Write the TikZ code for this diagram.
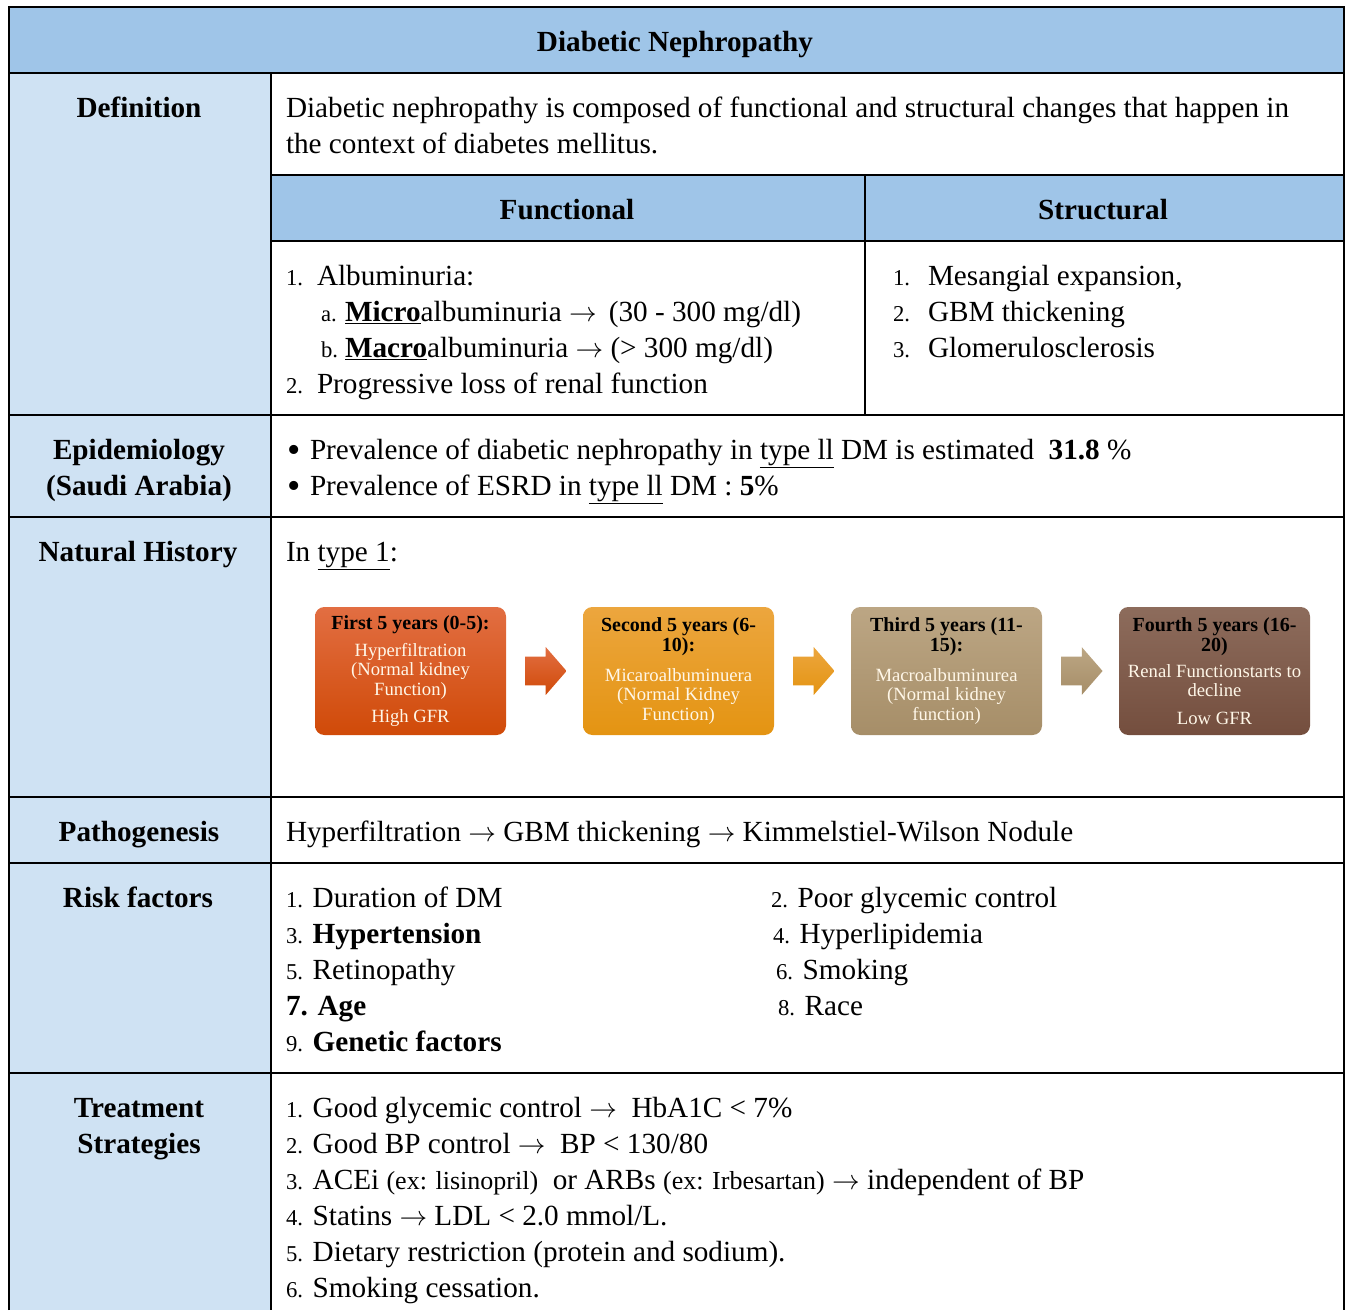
\documentclass[tikz,border=0pt]{standalone}
\usepackage{fontspec}
\setmainfont{Liberation Serif}
\usepackage{xcolor}
\usetikzlibrary{shapes.arrows,calc,positioning}

\definecolor{hdrblue}{RGB}{159,197,232}
\definecolor{lblblue}{RGB}{207,226,243}
\definecolor{cream}{RGB}{255,247,232}
\definecolor{sonetop}{RGB}{226,110,66}
\definecolor{sonebot}{RGB}{208,74,8}
\definecolor{stwotop}{RGB}{236,166,62}
\definecolor{stwobot}{RGB}{228,148,18}
\definecolor{sthreetop}{RGB}{188,166,132}
\definecolor{sthreebot}{RGB}{166,142,104}
\definecolor{sfourtop}{RGB}{141,108,92}
\definecolor{sfourbot}{RGB}{116,78,62}

\newcommand\bodyf{\fontsize{21.9}{27}\selectfont}
\newcommand\numf{\fontsize{17}{27}\selectfont}
\newcommand\exf{\fontsize{19.5}{27}\selectfont}
\newcommand\boxf{\fontsize{14}{14.6}\selectfont}
\newcommand\boxttl{\color{black}\fontsize{15}{14.6}\selectfont\bfseries}
\newcommand\lnum[2]{\makebox[#1][l]{\numf #2}}
\newcommand\ra{\ensuremath{\rightarrow}}
\newcommand\bul{\makebox[17.25pt][l]{\raisebox{-2.3pt}{\scalebox{1.3}{\textbullet}}}}

\begin{document}
\begin{tikzpicture}[x=0.75pt,y=0.75pt,yscale=-1,xscale=1,
  line width=1.5pt,
  every node/.style={inner sep=0pt,font=\bodyf},
  lbl/.style={anchor=base,font=\bodyf\bfseries},
  txt/.style={anchor=base west},
  stagebox/.style={rounded corners=7pt,minimum width=143.25pt,minimum height=96pt,outer sep=0pt,align=center,font=\boxf,text=cream},
  blockarr/.style={single arrow,single arrow head extend=7.1pt,single arrow tip angle=98,inner sep=10.1pt,minimum height=30.75pt,minimum width=34.5pt,xshift=-3.75pt},
  node distance=57.75pt]
\useasboundingbox (0,0) rectangle (1345,1310);

%Shape: header fills
\fill[hdrblue] (9,7) rectangle (1344,73);
\fill[lblblue] (9,73) rectangle (271,1310);
\fill[hdrblue] (271,175) rectangle (1344,241);
%Straight Lines: grid
\draw (9,1310) -- (9,7) -- (1344,7) -- (1344,1310);
\draw (9,73) -- (1344,73);
\draw (271,73) -- (271,1310);
\draw (271,175) -- (1344,175);
\draw (271,241) -- (1344,241);
\draw (865,175) -- (865,415);
\foreach \y in {415,517,797,863,1073}
  \draw (9,\y) -- (1344,\y);

% Text Node
\node[lbl] (ttl) at (675,51) {Diabetic Nephropathy};
% Text Node
\node[lbl] (defn) at (139,117) {Definition};
\node[txt] (deftxta) at (285,117) {Diabetic nephropathy is composed of functional and structural changes that happen in};
\node[txt] (deftxtb) at (285,153) {the context of diabetes mellitus.};
% Text Node
\node[lbl] (fnhd) at (567,219) {Functional};
\node[lbl] (sthd) at (1103,219) {Structural};
% Text Node
\node[txt] (fnone) at (285,285) {\lnum{23.25pt}{1.}Albuminuria:};
\node[txt] (fnonea) at (320,321) {\lnum{18pt}{a.}\underline{\textbf{Micro}}albuminuria \ra\ \,(30 - 300 mg/dl)};
\node[txt] (fnoneb) at (320,357) {\lnum{18pt}{b.}\underline{\textbf{Macro}}albuminuria \ra\ (> 300 mg/dl)};
\node[txt] (fntwo) at (285,393) {\lnum{23.25pt}{2.}Progressive loss of renal function};
% Text Node
\node[txt] (stone) at (892,285) {\lnum{26.25pt}{1.}Mesangial expansion,};
\node[txt] (sttwo) at (892,321) {\lnum{26.25pt}{2.}GBM thickening};
\node[txt] (stthree) at (892,357) {\lnum{26.25pt}{3.}Glomerulosclerosis};

% Text Node
\node[lbl] (epida) at (139,459) {Epidemiology};
\node[lbl] (epidb) at (139,495) {(Saudi Arabia)};
\node[txt] (epone) at (286,459) {\bul Prevalence of diabetic nephropathy in \underline{type ll} DM is estimated \ \textbf{31.8} \%};
\node[txt] (eptwo) at (286,495) {\bul Prevalence of ESRD in \underline{type ll} DM : \textbf{5}\%};

% Text Node
\node[lbl] (nath) at (138,561) {Natural History};
\node[txt] (ntype) at (285,561) {In \underline{type 1}:};

%Shape: stages
\node[stagebox,top color=sonetop,bottom color=sonebot] (stgone) at (410.5,671)
  {{\boxttl First 5 years (0-5):}\\[6pt]
   Hyperfiltration\\(Normal kidney\\Function)\\[6pt]High GFR};
\node[stagebox,top color=stwotop,bottom color=stwobot,right=of stgone] (stgtwo)
  {{\boxttl Second 5 years (6-}\\{\boxttl 10):}\\[8pt]
   Micaroalbuminuera\\(Normal Kidney\\Function)};
\node[stagebox,top color=sthreetop,bottom color=sthreebot,right=of stgtwo] (stgthree)
  {{\boxttl Third 5 years (11-}\\{\boxttl 15):}\\[8pt]
   Macroalbuminurea\\(Normal kidney\\function)};
\node[stagebox,top color=sfourtop,bottom color=sfourbot,right=of stgthree] (stgfour)
  {{\boxttl Fourth 5 years (16-}\\{\boxttl 20)}\\[5pt]
   Renal Functionstarts to\\decline\\[6pt]Low GFR};
%Shape: block arrows
\node[blockarr,top color=sonetop,bottom color=sonebot] (arrone) at ($(stgone.east)!0.5!(stgtwo.west)$) {};
\node[blockarr,top color=stwotop,bottom color=stwobot] (arrtwo) at ($(stgtwo.east)!0.5!(stgthree.west)$) {};
\node[blockarr,top color=sthreetop,bottom color=sthreebot] (arrthree) at ($(stgthree.east)!0.5!(stgfour.west)$) {};

% Text Node
\node[lbl] (path) at (139,841) {Pathogenesis};
\node[txt] (pathtxt) at (285,841) {Hyperfiltration \ra\ GBM thickening \ra\ Kimmelstiel-Wilson Nodule};

% Text Node
\node[lbl] (risk) at (138,907) {Risk factors};
\node[txt] (rfone) at (285,907) {{\numf 1.} Duration of DM};
\node[txt] (rfthree) at (285,943) {{\numf 3.} \textbf{Hypertension}};
\node[txt] (rffive) at (285,979) {{\numf 5.} Retinopathy};
\node[txt] (rfseven) at (285,1015) {\textbf{7. Age}};
\node[txt] (rfnine) at (285,1051) {{\numf 9.} \textbf{Genetic factors}};
\node[txt] (rftwo) at (770,907) {{\numf 2.} Poor glycemic control};
\node[txt] (rffour) at (772,943) {{\numf 4.} Hyperlipidemia};
\node[txt] (rfsix) at (775,979) {{\numf 6.} Smoking};
\node[txt] (rfeight) at (777,1015) {{\numf 8.} Race};

% Text Node
\node[lbl] (treata) at (139,1117) {Treatment};
\node[lbl] (treatb) at (139,1153) {Strategies};
\node[txt] (trone) at (285,1117) {{\numf 1.} Good glycemic control \ra\ \ HbA1C < 7\%};
\node[txt] (trtwo) at (285,1153) {{\numf 2.} Good BP control \ra\ \ BP < 130/80};
\node[txt] (trthree) at (285,1189) {{\numf 3.} ACEi {\exf(ex: lisinopril)}\ \ or ARBs {\exf(ex: Irbesartan)} \ra\ independent of BP};
\node[txt] (trfour) at (285,1225) {{\numf 4.} Statins \ra\ LDL < 2.0 mmol/L.};
\node[txt] (trfive) at (285,1261) {{\numf 5.} Dietary restriction (protein and sodium).};
\node[txt] (trsix) at (285,1297) {{\numf 6.} Smoking cessation.};
\end{tikzpicture}
\end{document}
